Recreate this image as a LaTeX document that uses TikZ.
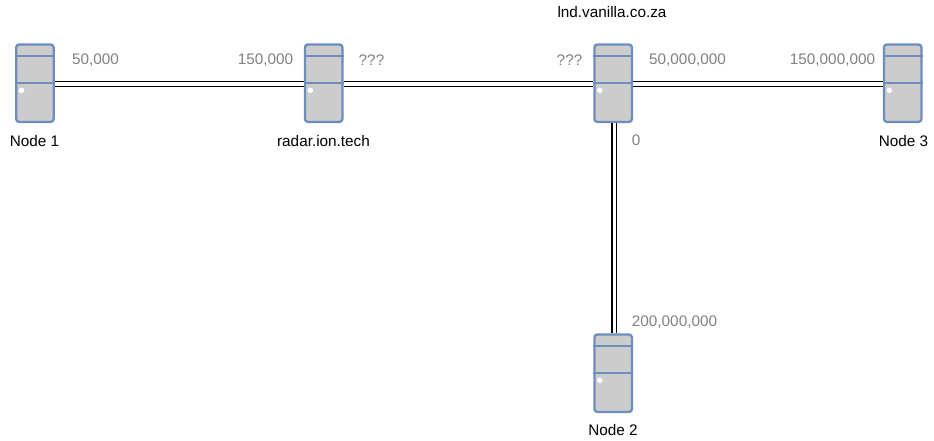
\documentclass[tikz,border=0pt]{standalone}
\usepackage{fontspec}
\setmainfont{Liberation Sans}
\definecolor{srvblue}{HTML}{6C8EBF}
\definecolor{srvfill}{HTML}{CCCCCC}
\definecolor{lblgray}{HTML}{808080}
\tikzset{
  x=1pt,y=-1pt,
  server/.style={draw=srvblue,fill=srvfill,line width=2.3pt,rounded corners=3pt,
    minimum width=37.5pt,minimum height=77.5pt,inner sep=0pt,outer sep=1.15pt},
  divider/.style={draw=srvblue,line width=2.1pt},
  led/.style={circle,fill=white,draw=none,minimum size=5.5pt,inner sep=0pt},
  link/.style={draw=black,line width=1.2pt,double=white,double distance=3.7pt},
  nodename/.style={font=\fontsize{15.3}{18}\selectfont,text=black,inner sep=0pt},
  captext/.style={font=\fontsize{15.3}{18}\selectfont,text=lblgray,inner sep=0pt},
}
\newcommand{\srvparts}[1]{%
  \draw[divider] ([yshift=-12.8pt]#1.north west) -- ([yshift=-12.8pt]#1.north east);
  \draw[divider] ([yshift=-39.4pt]#1.north west) -- ([yshift=-39.4pt]#1.north east);
  \node[led] (#1led) at ([xshift=6.5pt,yshift=-47pt]#1.north west) {};
}
\begin{document}
\begin{tikzpicture}
\useasboundingbox (0,0) rectangle (934,441);
\node[server] (n1) at (34.9,83.2) {};
\node[server] (radar) at (323.7,83.2) {};
\node[server] (lnd) at (613.2,83.2) {};
\node[server] (n3) at (902.7,83.2) {};
\node[server] (n2) at (613.2,373.2) {};
\draw[link] ([yshift=-0.8pt]n1.east) -- ([yshift=-0.8pt]radar.west);
\draw[link] ([yshift=-0.8pt]radar.east) -- ([yshift=-0.8pt]lnd.west);
\draw[link] ([yshift=-0.8pt]lnd.east) -- ([yshift=-0.8pt]n3.west);
\draw[link] ([xshift=1.2pt]lnd.south) -- ([xshift=1.2pt]n2.north);
\srvparts{n1}\srvparts{radar}\srvparts{lnd}\srvparts{n3}\srvparts{n2}
% names
\node[nodename] (t1) at (34.5,141.5) {Node 1};
\node[nodename] (t2) at (323.5,141.5) {radar.ion.tech};
\node[nodename] (t3) at (612,12.5) {lnd.vanilla.co.za};
\node[nodename] (t4) at (903.5,141.5) {Node 3};
\node[nodename] (t5) at (613,430) {Node 2};
% capacities
\node[captext] (c1) at (95.5,59.7) {50,000};
\node[captext] (c2) at (265.5,59.7) {150,000};
\node[captext] (c3) at (371.5,59.7) {???};
\node[captext] (c4) at (569.5,59.7) {???};
\node[captext] (c5) at (687.5,59.7) {50,000,000};
\node[captext] (c6) at (832.5,59.7) {150,000,000};
\node[captext] (c7) at (636,140.5) {0};
\node[captext] (c8) at (674.5,322.5) {200,000,000};
\end{tikzpicture}
\end{document}
